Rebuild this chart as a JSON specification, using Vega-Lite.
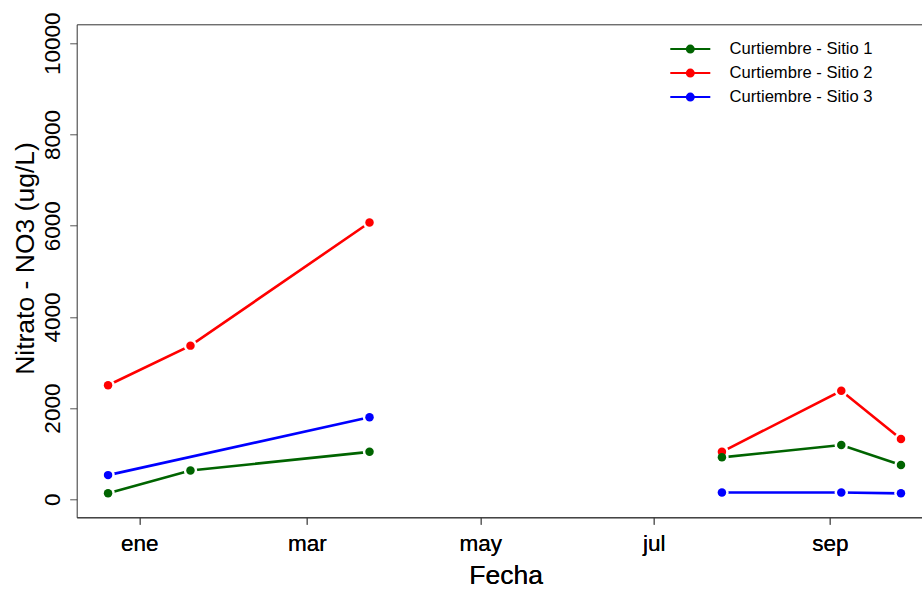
{
  "$schema": "https://vega.github.io/schema/vega-lite/v6.json",
  "width": 845.3,
  "height": 493,
  "autosize": "none",
  "padding": {"left": 76.7, "top": 24.3, "right": 0, "bottom": 72.7},
  "background": "white",
  "data": {
    "values": [
      {"fecha": "2017-12-21", "sitio": "Curtiembre - Sitio 2", "campana": "A", "nitrato": 2500},
      {"fecha": "2018-01-19", "sitio": "Curtiembre - Sitio 2", "campana": "A", "nitrato": 3370},
      {"fecha": "2018-03-23", "sitio": "Curtiembre - Sitio 2", "campana": "A", "nitrato": 6070},
      {"fecha": "2018-07-25", "sitio": "Curtiembre - Sitio 2", "campana": "B", "nitrato": 1040},
      {"fecha": "2018-09-05", "sitio": "Curtiembre - Sitio 2", "campana": "B", "nitrato": 2380},
      {"fecha": "2018-09-26", "sitio": "Curtiembre - Sitio 2", "campana": "B", "nitrato": 1320},
      {"fecha": "2017-12-21", "sitio": "Curtiembre - Sitio 1", "campana": "A", "nitrato": 130},
      {"fecha": "2018-01-19", "sitio": "Curtiembre - Sitio 1", "campana": "A", "nitrato": 630},
      {"fecha": "2018-03-23", "sitio": "Curtiembre - Sitio 1", "campana": "A", "nitrato": 1040},
      {"fecha": "2018-07-25", "sitio": "Curtiembre - Sitio 1", "campana": "B", "nitrato": 920},
      {"fecha": "2018-09-05", "sitio": "Curtiembre - Sitio 1", "campana": "B", "nitrato": 1190},
      {"fecha": "2018-09-26", "sitio": "Curtiembre - Sitio 1", "campana": "B", "nitrato": 750},
      {"fecha": "2017-12-21", "sitio": "Curtiembre - Sitio 3", "campana": "A", "nitrato": 530},
      {"fecha": "2018-03-23", "sitio": "Curtiembre - Sitio 3", "campana": "A", "nitrato": 1800},
      {"fecha": "2018-07-25", "sitio": "Curtiembre - Sitio 3", "campana": "B", "nitrato": 150},
      {"fecha": "2018-09-05", "sitio": "Curtiembre - Sitio 3", "campana": "B", "nitrato": 150},
      {"fecha": "2018-09-26", "sitio": "Curtiembre - Sitio 3", "campana": "B", "nitrato": 130}
    ]
  },
  "encoding": {
    "x": {
      "field": "fecha",
      "type": "temporal",
      "scale": {"type": "utc", "domain": [1512861408000, 1538559360000], "nice": false},
      "axis": {
        "values": [
          {"year": 2018, "month": 1, "date": 1, "utc": true},
          {"year": 2018, "month": 3, "date": 1, "utc": true},
          {"year": 2018, "month": 5, "date": 1, "utc": true},
          {"year": 2018, "month": 7, "date": 1, "utc": true},
          {"year": 2018, "month": 9, "date": 1, "utc": true}
        ],
        "labelExpr": "['ene','feb','mar','abr','may','jun','jul','ago','sep','oct','nov','dic'][utcmonth(datum.value)]",
        "labelBaseline": "alphabetic",
        "labelAlign": "center",
        "labelPadding": 25.7,
        "labelFlush": false,
        "labelOverlap": false,
        "title": "Fecha",
        "titleX": 429,
        "titleY": 66,
        "titleBaseline": "alphabetic",
        "titleAlign": "center"
      }
    },
    "y": {
      "field": "nitrato",
      "type": "quantitative",
      "scale": {"domain": [-395, 10417], "nice": false, "zero": false},
      "axis": {
        "values": [0, 2000, 4000, 6000, 8000, 10000],
        "format": "d",
        "labelAngle": -90,
        "labelAlign": "center",
        "labelBaseline": "alphabetic",
        "labelPadding": 10.4,
        "labelFlush": false,
        "labelOverlap": false,
        "title": "Nitrato - NO3 (ug/L)",
        "titleX": -43.4,
        "titleY": 233.7,
        "titleAngle": -90,
        "titleBaseline": "alphabetic",
        "titleAlign": "center"
      }
    }
  },
  "layer": [
    {
      "mark": {"type": "line", "strokeWidth": 2.6},
      "encoding": {
        "detail": {"field": "campana"},
        "color": {
          "field": "sitio",
          "type": "nominal",
          "scale": {
            "domain": ["Curtiembre - Sitio 1", "Curtiembre - Sitio 2", "Curtiembre - Sitio 3"],
            "range": ["#006400", "#FF0000", "#0000FF"]
          },
          "legend": {
            "orient": "none",
            "legendX": 605.3,
            "legendY": 16.5,
            "title": null,
            "padding": 0,
            "symbolType": "M-5,0H5M-0.875,0A0.875,0.875,0,1,0,0.875,0A0.875,0.875,0,1,0,-0.875,0Z",
            "symbolSize": 64,
            "symbolStrokeWidth": 2,
            "labelFont": "Liberation Sans",
            "labelFontSize": 16.6,
            "labelColor": "black",
            "labelOffset": 31,
            "labelLimit": 400,
            "rowPadding": 7,
            "encode": {"symbols": {"update": {"fill": {"scale": "color", "field": "value"}}}}
          }
        }
      }
    },
    {
      "mark": {"type": "point", "filled": true, "color": "white", "opacity": 1, "size": 180},
      "encoding": {
        "x": {
          "field": "fecha",
          "type": "temporal",
          "axis": {"orient": "top", "labels": false, "ticks": false, "domain": true, "title": null, "grid": false}
        }
      }
    },
    {
      "mark": {"type": "point", "filled": true, "opacity": 1, "size": 72},
      "encoding": {
        "color": {"field": "sitio", "type": "nominal"}
      }
    }
  ],
  "resolve": {"axis": {"x": "independent"}},
  "config": {
    "view": {"stroke": null},
    "axis": {
      "grid": false,
      "domainColor": "#333",
      "domainWidth": 1,
      "tickColor": "#555",
      "tickWidth": 1,
      "tickSize": 7,
      "labelFont": "Liberation Sans",
      "titleFont": "Liberation Sans",
      "labelFontSize": 22.5,
      "titleFontSize": 26.5,
      "titleFontWeight": "normal",
      "labelColor": "black",
      "titleColor": "black"
    }
  }
}
